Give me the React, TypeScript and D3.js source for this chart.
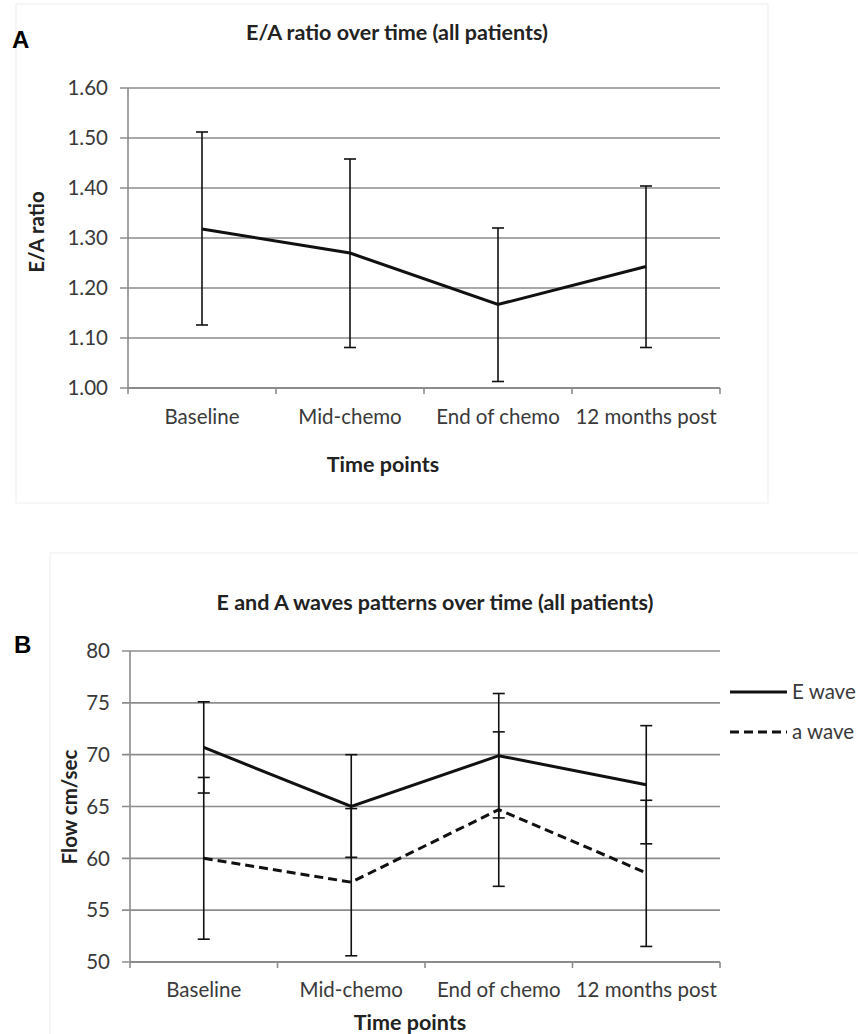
import React from "react";
import * as d3 from "d3";

// time points shared by both panels
const timePoints = ["Baseline", "Mid-chemo", "End of chemo", "12 months post"];

// panel A: E/A ratio, mean with upper/lower error bar ends
const ratioMean = [1.318, 1.27, 1.167, 1.243];
const ratioUpper = [1.512, 1.458, 1.32, 1.404];
const ratioLower = [1.126, 1.081, 1.013, 1.081];
const ratioTicks = [1.0, 1.1, 1.2, 1.3, 1.4, 1.5, 1.6];

// panel B: E and a wave flow (cm/sec)
const eWaveMean = [70.7, 65.0, 69.9, 67.1];
const eWaveUpper = [75.1, 70.0, 75.9, 72.8];
const eWaveLower = [66.3, 60.1, 63.9, 61.4];
const aWaveMean = [60.0, 57.7, 64.7, 58.6];
const aWaveUpper = [67.8, 64.8, 72.2, 65.6];
const aWaveLower = [52.2, 50.6, 57.3, 51.5];
const flowTicks = [50, 55, 60, 65, 70, 75, 80];

const FONT = "Lato, 'Open Sans', sans-serif";
const GRID = "#8c8c8c";
const TXT = "#3a3a3a";

type Series = {
  mean: number[];
  upper: number[];
  lower: number[];
  dash?: string;
};

type PanelProps = {
  left: number;
  right: number;
  top: number;
  bottom: number;
  domain: [number, number];
  ticks: number[];
  fmt: (v: number) => string;
  series: Series[];
  title: string;
  titleX: number;
  titleY: number;
  yTitle: string;
  yTitleX: number;
  yTitleY: number;
  xLabelY: number;
  xTitleX: number;
  xTitleY: number;
};

const Panel = (p: PanelProps) => {
  const x = d3.scaleBand().domain(timePoints).range([p.left, p.right]);
  const y = d3.scaleLinear().domain(p.domain).range([p.bottom, p.top]);
  const cx = (d: string) => (x(d) || 0) + x.bandwidth() / 2;

  const line = d3
    .line<number>()
    .x((_, i) => cx(timePoints[i]))
    .y((d) => y(d));

  const boundaries = timePoints.map((d) => x(d) || 0).concat([p.right]);

  return (
    <g>
      <text x={p.titleX} y={p.titleY} textAnchor="middle" fontFamily={FONT} fontWeight="bold" fontSize={21.5} fill="#222">
        {p.title}
      </text>

      {/* gridlines + left ticks */}
      {p.ticks.map((t) => (
        <g key={t}>
          <line x1={p.left - 8} x2={p.right} y1={y(t)} y2={y(t)} stroke={GRID} strokeWidth={1.6} />
          <text x={p.left - 20} y={y(t)} dy="0.35em" textAnchor="end" fontFamily={FONT} fontSize={20.5} fill={TXT}>
            {p.fmt(t)}
          </text>
        </g>
      ))}

      {/* axes */}
      <line x1={p.left} x2={p.left} y1={p.top} y2={p.bottom} stroke={GRID} strokeWidth={1.6} />
      <line x1={p.left} x2={p.right} y1={p.bottom} y2={p.bottom} stroke={GRID} strokeWidth={1.8} />
      {boundaries.map((b, i) => (
        <line key={i} x1={b} x2={b} y1={p.bottom} y2={p.bottom + 6} stroke={GRID} strokeWidth={1.6} />
      ))}

      {/* category labels */}
      {timePoints.map((d) => (
        <text key={d} x={cx(d)} y={p.xLabelY} textAnchor="middle" fontFamily={FONT} fontSize={20.5} fill={TXT}>
          {d}
        </text>
      ))}

      {/* error bars */}
      {p.series.map((s, si) =>
        timePoints.map((d, i) => (
          <g key={si + d} stroke="#111" strokeWidth={1.6}>
            <line x1={cx(d)} x2={cx(d)} y1={y(s.upper[i])} y2={y(s.lower[i])} />
            <line x1={cx(d) - 6} x2={cx(d) + 6} y1={y(s.upper[i])} y2={y(s.upper[i])} />
            <line x1={cx(d) - 6} x2={cx(d) + 6} y1={y(s.lower[i])} y2={y(s.lower[i])} />
          </g>
        ))
      )}

      {/* mean lines */}
      {p.series.map((s, si) => (
        <path key={si} d={line(s.mean) || ""} fill="none" stroke="#111" strokeWidth={3} strokeDasharray={s.dash} />
      ))}

      <text
        transform={`translate(${p.yTitleX},${p.yTitleY}) rotate(-90)`}
        textAnchor="middle"
        fontFamily={FONT}
        fontWeight="bold"
        fontSize={20.5}
        fill="#222"
      >
        {p.yTitle}
      </text>
      <text x={p.xTitleX} y={p.xTitleY} textAnchor="middle" fontFamily={FONT} fontWeight="bold" fontSize={21.5} fill="#222">
        Time points
      </text>
    </g>
  );
};

export default function App() {
  return (
    <svg width={858} height={1034} style={{ position: "absolute", left: 0, top: 0, background: "#fff" }}>
      {/* faint chart area frames */}
      <rect x={16} y={4} width={752} height={499} fill="none" stroke="#f3f3f3" strokeWidth={1.5} />
      <rect x={50} y={553} width={820} height={500} fill="none" stroke="#f3f3f3" strokeWidth={1.5} />

      <text x={12} y={48} fontFamily="Arial, 'Liberation Sans', sans-serif" fontWeight="bold" fontSize={24} fill="#000">
        A
      </text>
      <text x={14} y={653} fontFamily="Arial, 'Liberation Sans', sans-serif" fontWeight="bold" fontSize={24} fill="#000">
        B
      </text>

      <Panel
        left={128}
        right={720}
        top={88}
        bottom={388}
        domain={[1.0, 1.6]}
        ticks={ratioTicks}
        fmt={(v) => v.toFixed(2)}
        series={[{ mean: ratioMean, upper: ratioUpper, lower: ratioLower }]}
        title="E/A ratio over time (all patients)"
        titleX={397}
        titleY={40}
        yTitle="E/A ratio"
        yTitleX={44}
        yTitleY={232}
        xLabelY={424}
        xTitleX={383}
        xTitleY={472}
      />

      <Panel
        left={130}
        right={720}
        top={651}
        bottom={962}
        domain={[50, 80]}
        ticks={flowTicks}
        fmt={(v) => String(v)}
        series={[
          { mean: eWaveMean, upper: eWaveUpper, lower: eWaveLower },
          { mean: aWaveMean, upper: aWaveUpper, lower: aWaveLower, dash: "9,5" },
        ]}
        title="E and A waves patterns over time (all patients)"
        titleX={435}
        titleY={610}
        yTitle="Flow cm/sec"
        yTitleX={77}
        yTitleY={807}
        xLabelY={997}
        xTitleX={410}
        xTitleY={1030}
      />

      {/* legend */}
      <line x1={730} x2={787} y1={692} y2={692} stroke="#111" strokeWidth={3} />
      <text x={792} y={692} dy="0.35em" fontFamily={FONT} fontSize={20.5} fill={TXT}>
        E wave
      </text>
      <line x1={730} x2={787} y1={732} y2={732} stroke="#111" strokeWidth={3} strokeDasharray="9,5" />
      <text x={792} y={732} dy="0.35em" fontFamily={FONT} fontSize={20.5} fill={TXT}>
        a wave
      </text>
    </svg>
  );
}
